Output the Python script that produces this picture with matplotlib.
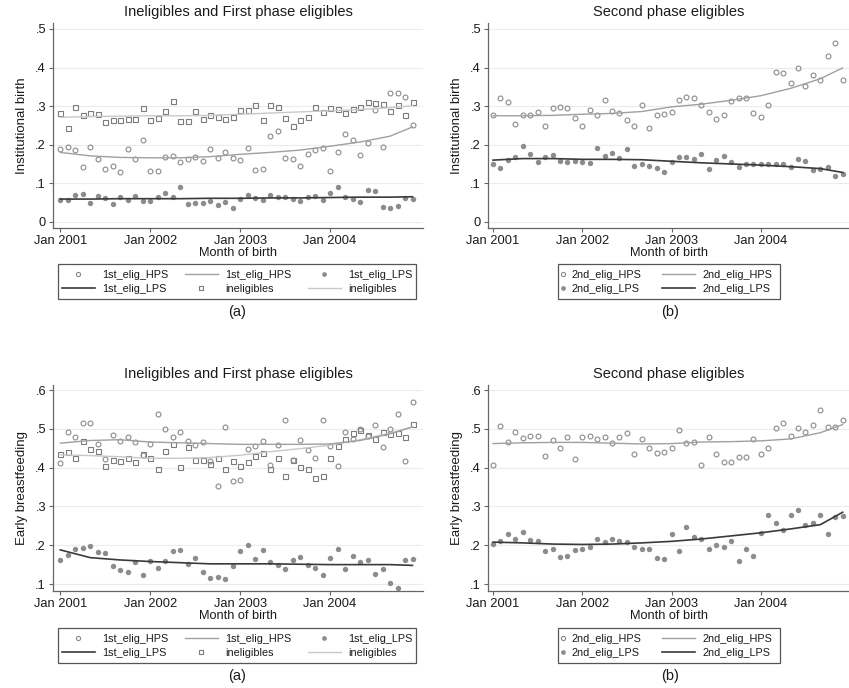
import numpy as np
import matplotlib
matplotlib.use("Agg")
import matplotlib.pyplot as plt
from matplotlib.ticker import FuncFormatter
from matplotlib.lines import Line2D
from matplotlib.patches import Rectangle

plt.rcParams['font.family'] = ['Liberation Sans', 'DejaVu Sans']

# month index 0 = Jan 2001 ... 47 = Dec 2004
months = np.arange(48)
fit_months = [0, 4, 8, 12, 16, 20, 24, 28, 32, 36, 40, 44, 47]
tick_months = [0, 12, 24, 36]
tick_labels = ['Jan 2001', 'Jan 2002', 'Jan 2003', 'Jan 2004']

# ---- Institutional birth, ineligibles and first phase eligibles ----
ib_first_hps = [.188, .194, .187, .141, .194, .162, .136, .145, .128, .190, .162, .211,
                .131, .133, .168, .171, .156, .163, .168, .158, .188, .166, .182, .166,
                .161, .192, .135, .136, .222, .236, .166, .162, .145, .177, .187, .191,
                .131, .181, .227, .211, .172, .205, .290, .193, .334, .334, .324, .251]
ib_first_lps = [.057, .057, .069, .073, .048, .068, .061, .047, .064, .057, .067, .055,
                .053, .064, .076, .065, .091, .045, .050, .048, .055, .044, .052, .036,
                .060, .070, .062, .056, .069, .064, .064, .058, .054, .064, .067, .057,
                .075, .091, .065, .059, .051, .082, .080, .038, .036, .042, .062, .058]
ib_inelig = [.281, .243, .299, .277, .283, .280, .260, .264, .264, .267, .267, .295,
             .265, .269, .287, .313, .262, .261, .287, .266, .278, .272, .267, .272,
             .291, .291, .303, .265, .302, .299, .270, .249, .265, .271, .299, .284,
             .296, .292, .283, .293, .299, .311, .308, .306, .287, .304, .277, .310]
ib_first_hps_fit = [.180, .171, .167, .166, .166, .169, .175, .180, .186, .196, .207, .222, .246]
ib_first_lps_fit = [.059, .059, .060, .060, .060, .061, .061, .062, .062, .063, .064, .064, .065]
ib_inelig_fit = [.271, .273, .274, .275, .275, .276, .279, .282, .285, .288, .291, .296, .301]

# ---- Institutional birth, second phase eligibles ----
ib_second_hps = [.278, .320, .310, .254, .277, .277, .284, .248, .296, .298, .296, .270,
                 .248, .291, .277, .317, .287, .282, .263, .248, .304, .244, .278, .280,
                 .284, .317, .323, .322, .302, .284, .266, .277, .314, .321, .320, .282,
                 .271, .303, .389, .385, .359, .400, .353, .381, .369, .431, .463, .369]
ib_second_lps = [.150, .140, .161, .168, .196, .175, .155, .168, .174, .158, .155, .157,
                 .155, .153, .191, .171, .179, .166, .189, .144, .151, .144, .139, .130,
                 .154, .168, .169, .162, .175, .137, .161, .170, .155, .143, .149, .151,
                 .149, .149, .151, .149, .142, .162, .157, .135, .137, .143, .118, .124]
ib_second_hps_fit = [.275, .275, .276, .279, .281, .286, .298, .305, .315, .327, .346, .371, .399]
ib_second_lps_fit = [.160, .164, .164, .162, .162, .161, .157, .153, .150, .147, .143, .138, .128]

# ---- Early breastfeeding, ineligibles and first phase eligibles ----
eb_first_hps = [.411, .491, .479, .515, .515, .460, .422, .484, .469, .479, .466, .432,
                .462, .539, .500, .479, .491, .468, .458, .466, .418, .353, .506, .365,
                .369, .449, .456, .469, .406, .458, .522, .420, .471, .445, .426, .523,
                .455, .404, .491, .473, .499, .482, .509, .452, .500, .537, .416, .570]
eb_first_lps = [.163, .175, .191, .193, .197, .183, .179, .147, .135, .130, .156, .123,
                .159, .142, .159, .186, .187, .151, .166, .130, .115, .117, .114, .146,
                .186, .201, .164, .187, .156, .150, .138, .163, .169, .148, .141, .123,
                .166, .190, .139, .171, .156, .163, .127, .138, .102, .091, .161, .165]
eb_inelig = [.436, .440, .426, .469, .447, .443, .405, .420, .417, .425, .415, .434,
             .424, .396, .444, .461, .401, .454, .420, .420, .409, .424, .396, .416,
             .405, .415, .429, .439, .396, .424, .378, .420, .402, .397, .372, .378,
             .426, .456, .473, .489, .497, .484, .473, .491, .487, .488, .478, .512]
eb_first_hps_fit = [.463, .470, .472, .466, .464, .462, .460, .460, .460, .461, .470, .487, .505]
eb_first_lps_fit = [.188, .168, .162, .158, .155, .152, .152, .152, .151, .150, .150, .150, .148]
eb_inelig_fit = [.433, .431, .428, .424, .424, .426, .432, .441, .449, .458, .472, .489, .505]

# ---- Early breastfeeding, second phase eligibles ----
eb_second_hps = [.407, .507, .465, .492, .477, .481, .482, .430, .472, .451, .479, .423,
                 .478, .481, .475, .479, .463, .479, .488, .435, .474, .451, .438, .440,
                 .450, .496, .464, .465, .406, .479, .436, .414, .414, .428, .428, .473,
                 .435, .450, .502, .515, .482, .503, .491, .509, .549, .505, .505, .523]
eb_second_lps = [.203, .210, .230, .217, .235, .214, .210, .186, .190, .169, .173, .187,
                 .191, .196, .216, .208, .216, .210, .208, .196, .190, .191, .167, .165,
                 .228, .184, .248, .222, .217, .189, .200, .196, .211, .160, .189, .171,
                 .232, .278, .257, .240, .278, .292, .252, .258, .279, .230, .272, .276]
eb_second_hps_fit = [.462, .464, .465, .465, .463, .461, .462, .466, .467, .469, .474, .490, .511]
eb_second_lps_fit = [.208, .206, .203, .202, .203, .206, .210, .216, .224, .232, .242, .253, .285]

C_HOLLOW = '#8a8a8a'
C_SQUARE = '#7c7c7c'
C_DOT = '#8c8c8c'
C_HPS_LINE = '#a0a0a0'
C_LPS_LINE = '#3a3a3a'
C_INEL_LINE = '#c8c8c8'
TXT = '#1a1a1a'

W, H = 849, 688
fig = plt.figure(figsize=(W / 100, H / 100), dpi=100)


def px_axes(x0, y0, x1, y1):
    return fig.add_axes([x0 / W, 1 - y1 / H, (x1 - x0) / W, (y1 - y0) / H])


def style(ax, title, ylabel, xlim, ylim, yticks):
    ax.set_xlim(*xlim)
    ax.set_ylim(*ylim)
    ax.set_yticks(yticks)
    ax.yaxis.set_major_formatter(FuncFormatter(
        lambda v, p: '0' if abs(v) < 1e-9 else ('%.1f' % v).lstrip('0')))
    ax.set_xticks(tick_months)
    ax.set_xticklabels(tick_labels)
    ax.yaxis.grid(True, color='#ececec', lw=0.8)
    ax.set_axisbelow(True)
    for s in ['top', 'right']:
        ax.spines[s].set_visible(False)
    for s in ['left', 'bottom']:
        ax.spines[s].set_color('#666666')
        ax.spines[s].set_linewidth(0.9)
    ax.tick_params(direction='out', length=3, width=0.8, color='#666666',
                   labelsize=9.3, labelcolor=TXT, pad=2)
    ax.set_title(title, fontsize=10.5, color=TXT, pad=5)
    ax.set_ylabel(ylabel, fontsize=9.5, color=TXT, labelpad=5)
    ax.set_xlabel('Month of birth', fontsize=9.2, color=TXT, labelpad=0)


def hollow(ax, y):
    ax.plot(months, y, 'o', mfc='none', mec=C_HOLLOW, ms=3.5, mew=0.8)


def square(ax, y):
    ax.plot(months, y, 's', mfc='none', mec=C_SQUARE, ms=3.6, mew=0.8)


def dots(ax, y):
    ax.plot(months, y, 'o', color=C_DOT, ms=3.9, mew=0)


def first_panel(ax, hps, lps, inel, hps_fit, lps_fit, inel_fit):
    square(ax, inel)
    hollow(ax, hps)
    dots(ax, lps)
    ax.plot(fit_months, inel_fit, color=C_INEL_LINE, lw=1.0)
    ax.plot(fit_months, hps_fit, color=C_HPS_LINE, lw=1.0)
    ax.plot(fit_months, lps_fit, color=C_LPS_LINE, lw=1.2)


def second_panel(ax, hps, lps, hps_fit, lps_fit):
    hollow(ax, hps)
    dots(ax, lps)
    ax.plot(fit_months, hps_fit, color=C_HPS_LINE, lw=1.0)
    ax.plot(fit_months, lps_fit, color=C_LPS_LINE, lw=1.2)


def k_hollow():
    return Line2D([], [], ls='none', marker='o', mfc='none', mec=C_HOLLOW, ms=3, mew=0.8)


def k_dot():
    return Line2D([], [], ls='none', marker='o', color=C_DOT, ms=3.4, mew=0)


def k_square():
    return Line2D([], [], ls='none', marker='s', mfc='none', mec=C_SQUARE, ms=3.2, mew=0.8)


def k_line(c, lw=1.0):
    return Line2D([], [], color=c, lw=lw)


def key_box(x0, y0, x1, y1):
    fig.patches.append(Rectangle((x0 / W, 1 - y1 / H), (x1 - x0) / W, (y1 - y0) / H,
                                 transform=fig.transFigure, fill=False,
                                 edgecolor='#555555', lw=0.9))


def key_column(x, yc, handles, labels, hlen, tpad):
    leg = fig.legend(handles, labels, loc='center left', bbox_to_anchor=(x / W, 1 - yc / H),
                     bbox_transform=fig.transFigure, fontsize=7.8, frameon=False,
                     handlelength=hlen, handletextpad=tpad, labelspacing=0.33,
                     borderpad=0, borderaxespad=0)
    for t in leg.get_texts():
        t.set_color(TXT)


def first_legend(ytop):
    key_box(58, ytop, 416, ytop + 35)
    yc = ytop + 18
    key_column(62, yc, [k_hollow(), k_line(C_LPS_LINE, 1.2)],
               ['1st_elig_HPS', '1st_elig_LPS'], 3.0, 0.75)
    key_column(185, yc, [k_line(C_HPS_LINE), k_square()],
               ['1st_elig_HPS', 'ineligibles'], 3.0, 0.75)
    key_column(308, yc, [k_dot(), k_line(C_INEL_LINE)],
               ['1st_elig_LPS', 'ineligibles'], 3.0, 0.75)


def second_legend(ytop):
    key_box(558, ytop, 780, ytop + 35)
    yc = ytop + 18
    key_column(559, yc, [k_hollow(), k_dot()],
               ['2nd_elig_HPS', '2nd_elig_LPS'], 0.8, 0.4)
    key_column(662, yc, [k_line(C_HPS_LINE), k_line(C_LPS_LINE, 1.2)],
               ['2nd_elig_HPS', '2nd_elig_LPS'], 3.0, 0.75)


XL_LEFT = (-0.97, 48.4)
XL_RIGHT = (-0.67, 47.85)

# top-left
ax1 = px_axes(53, 23, 423, 228)
first_panel(ax1, ib_first_hps, ib_first_lps, ib_inelig,
            ib_first_hps_fit, ib_first_lps_fit, ib_inelig_fit)
style(ax1, 'Ineligibles and First phase eligibles', 'Institutional birth',
      XL_LEFT, (-0.016, 0.5155), [0, .1, .2, .3, .4, .5])
first_legend(264)

# top-right
ax2 = px_axes(488, 23, 849, 228)
second_panel(ax2, ib_second_hps, ib_second_lps, ib_second_hps_fit, ib_second_lps_fit)
style(ax2, 'Second phase eligibles', 'Institutional birth',
      XL_RIGHT, (-0.016, 0.5155), [0, .1, .2, .3, .4, .5])
second_legend(264)

# bottom-left
ax3 = px_axes(53, 385, 423, 591)
first_panel(ax3, eb_first_hps, eb_first_lps, eb_inelig,
            eb_first_hps_fit, eb_first_lps_fit, eb_inelig_fit)
style(ax3, 'Ineligibles and First phase eligibles', 'Early breastfeeding',
      XL_LEFT, (0.082, 0.613), [.1, .2, .3, .4, .5, .6])
first_legend(628)

# bottom-right
ax4 = px_axes(488, 385, 849, 591)
second_panel(ax4, eb_second_hps, eb_second_lps, eb_second_hps_fit, eb_second_lps_fit)
style(ax4, 'Second phase eligibles', 'Early breastfeeding',
      XL_RIGHT, (0.082, 0.613), [.1, .2, .3, .4, .5, .6])
second_legend(628)

for x, y, s in [(237, 312, '(a)'), (670, 312, '(b)'), (237, 676, '(a)'), (670, 676, '(b)')]:
    fig.text(x / W, 1 - y / H, s, ha='center', va='center', fontsize=10.5, color=TXT)

fig.savefig('out.png', dpi=100, facecolor='white')
